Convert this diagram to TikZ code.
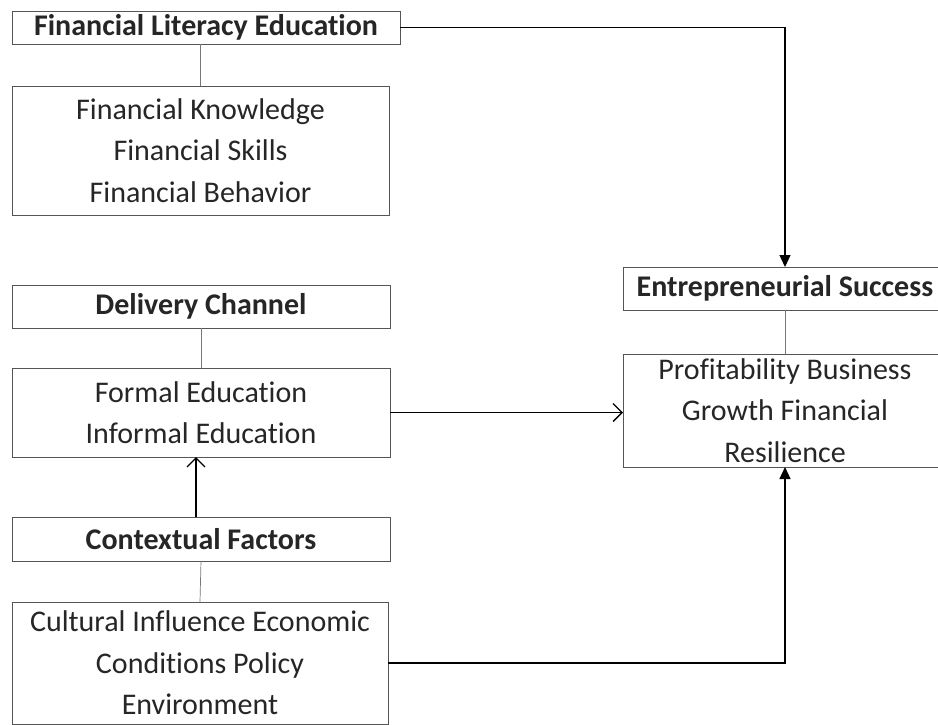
\documentclass[tikz,border=0pt]{standalone}
\usepackage{fontspec}
\setmainfont{Carlito}[Ligatures=NoCommon]
\usepackage{tikz}
\usetikzlibrary{arrows.meta,positioning}
\definecolor{frameline}{HTML}{555555}
\definecolor{linkline}{HTML}{777777}
\definecolor{inktext}{HTML}{262626}

\begin{document}
\begin{tikzpicture}[x=1pt,y=-1pt,
  head/.style={draw=frameline,line width=0.9pt,fill=white,inner sep=0pt,
              outer sep=0pt,minimum width=378pt,minimum height=43pt,
              align=center,font=\fontsize{30}{41}\selectfont\bfseries,
              text=inktext},
  list/.style={draw=frameline,line width=0.9pt,fill=white,inner sep=0pt,
              outer sep=0pt,minimum width=378pt,align=center,
              font=\fontsize{30}{41.5}\selectfont,text=inktext},
  link/.style={linkline,line width=0.7pt},
  arr/.style={-{Straight Barb[length=9pt,width=18pt]},line width=1.3pt,black},
  arrb/.style={-{Triangle[length=12pt,width=11pt]},line width=1.3pt,black}]
  \path[use as bounding box,clip] (0,0) rectangle (938,724);
  % left column
  \node[head,minimum width=388pt,minimum height=33pt,anchor=north west]
       (fle) at (12,11) {Financial Literacy Education};
  \node[list,minimum width=377pt,minimum height=129pt,
        below=42pt of fle.south west,anchor=north west] (skills)
       {Financial Knowledge\\Financial Skills\\Financial Behavior};
  \node[head,below=70pt of skills.south west,anchor=north west] (channel)
       {Delivery Channel};
  \node[list,minimum height=89pt,below=40pt of channel.south west,
        anchor=north west] (forms) {Formal Education\\Informal Education};
  \node[head,minimum height=44pt,below=60pt of forms.south west,
        anchor=north west] (context) {Contextual Factors};
  \node[list,minimum width=376pt,minimum height=122pt,
        below=41pt of context.south west,anchor=north west] (factors)
       {Cultural Influence Economic\\Conditions Policy\\Environment};
  % right column
  \node[head,minimum width=324pt,anchor=north west] (success) at (623,267)
       {Entrepreneurial Success};
  \node[list,minimum width=324pt,minimum height=113pt,
        below=44pt of success.south west,anchor=north west] (outcomes)
       {Profitability Business\\Growth Financial\\Resilience};
  % links
  \draw[link] (fle.south -| skills.north) -- (skills.north);
  \draw[link] (channel.south) -- (forms.north);
  \draw[link] (context.south) -- (factors.north);
  \draw[link] (success.south) -- (outcomes.north);
  \draw[arrb] (fle.east) -| (success.north);
  \draw[arr] (forms.east) -- (forms.east -| outcomes.west);
  \draw[arr] ([xshift=-5pt]context.north) -- ([xshift=-5pt]forms.south);
  \draw[arrb] (factors.east) -| (outcomes.south);
\end{tikzpicture}
\end{document}
